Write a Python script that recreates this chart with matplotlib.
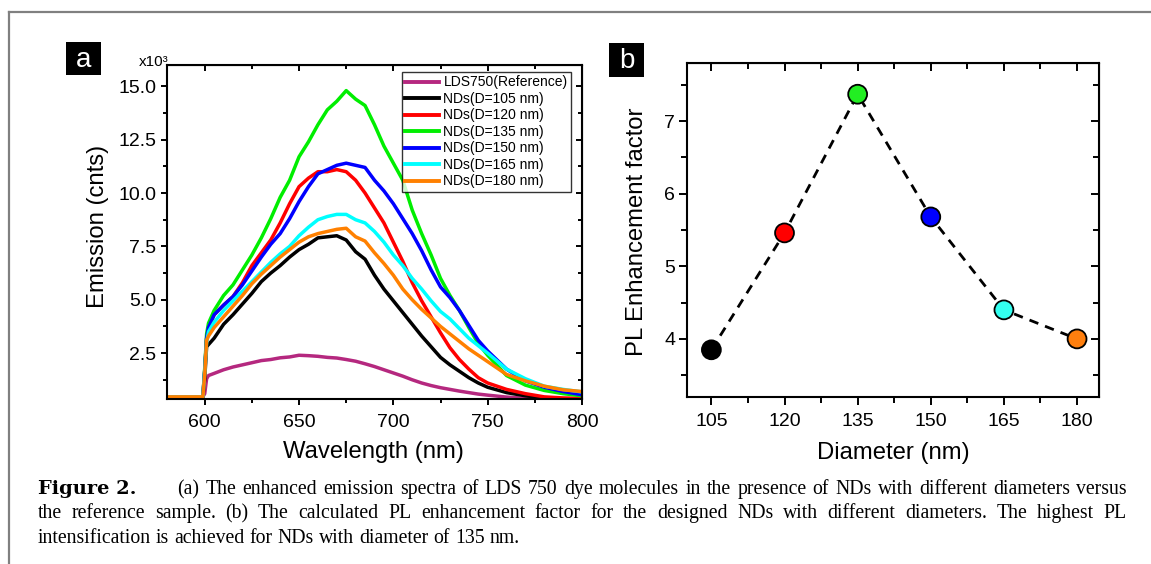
import matplotlib
matplotlib.use("Agg")
import matplotlib.pyplot as plt
from matplotlib.ticker import MultipleLocator, FormatStrFormatter
from matplotlib.patches import Rectangle
from matplotlib.lines import Line2D

plt.rcParams['font.family'] = ['Liberation Sans', 'DejaVu Sans']

# ---------------- data ----------------
wavelength = [580, 599, 600, 601, 602, 605, 610, 615, 620, 625, 630, 635, 640, 645, 650,
              655, 660, 665, 670, 675, 680, 685, 690, 695, 700, 705, 710, 715, 720, 725,
              730, 735, 740, 745, 750, 760, 770, 780, 790, 800]

lds750_ref = [0.45, 0.45, 0.6, 1.3, 1.45, 1.55, 1.72, 1.85, 1.95, 2.05, 2.15, 2.2, 2.28, 2.32, 2.4,
              2.38, 2.35, 2.3, 2.27, 2.2, 2.12, 2.0, 1.87, 1.72, 1.57, 1.42, 1.25, 1.1, 0.98, 0.88,
              0.8, 0.72, 0.65, 0.58, 0.53, 0.44, 0.38, 0.34, 0.32, 0.3]
nd_105 = [0.45, 0.45, 1.3, 2.8, 2.9, 3.2, 3.85, 4.3, 4.8, 5.3, 5.85, 6.25, 6.6, 7.0, 7.35,
          7.6, 7.9, 7.95, 8.0, 7.8, 7.25, 6.9, 6.15, 5.5, 4.95, 4.4, 3.85, 3.3, 2.8, 2.3,
          1.95, 1.65, 1.35, 1.1, 0.9, 0.65, 0.5, 0.4, 0.35, 0.33]
nd_120 = [0.45, 0.45, 1.7, 3.2, 3.7, 4.3, 4.75, 5.15, 5.8, 6.6, 7.2, 7.8, 8.6, 9.5, 10.3,
          10.7, 11.0, 11.0, 11.1, 11.0, 10.6, 10.0, 9.3, 8.6, 7.7, 6.8, 5.8, 4.95, 4.2, 3.45,
          2.75, 2.2, 1.75, 1.35, 1.1, 0.8, 0.6, 0.45, 0.4, 0.38]
nd_135 = [0.45, 0.45, 1.8, 3.4, 3.9, 4.5, 5.2, 5.7, 6.4, 7.1, 7.9, 8.8, 9.8, 10.6, 11.7,
          12.4, 13.2, 13.9, 14.3, 14.8, 14.4, 14.1, 13.2, 12.2, 11.4, 10.6, 9.2, 8.1, 7.1, 6.0,
          5.2, 4.5, 3.7, 2.95, 2.4, 1.45, 1.0, 0.75, 0.6, 0.5]
nd_150 = [0.45, 0.45, 1.7, 3.2, 3.7, 4.3, 4.75, 5.15, 5.7, 6.35, 7.0, 7.6, 8.1, 8.8, 9.6,
          10.3, 10.9, 11.1, 11.3, 11.4, 11.3, 11.2, 10.6, 10.1, 9.5, 8.8, 8.1, 7.3, 6.4, 5.6,
          5.1, 4.5, 3.8, 3.1, 2.6, 1.75, 1.2, 0.9, 0.7, 0.55]
nd_165 = [0.45, 0.45, 1.6, 3.0, 3.5, 3.95, 4.5, 4.95, 5.4, 5.85, 6.3, 6.75, 7.15, 7.5, 8.0,
          8.4, 8.75, 8.9, 9.0, 9.0, 8.75, 8.6, 8.2, 7.7, 7.1, 6.6, 6.0, 5.5, 4.95, 4.45,
          4.1, 3.65, 3.2, 2.85, 2.5, 1.75, 1.3, 0.95, 0.8, 0.68]
nd_180 = [0.45, 0.45, 1.5, 3.1, 3.3, 3.7, 4.2, 4.7, 5.2, 5.75, 6.2, 6.6, 7.0, 7.35, 7.7,
          7.95, 8.1, 8.2, 8.3, 8.35, 7.95, 7.75, 7.2, 6.7, 6.15, 5.5, 5.0, 4.55, 4.15, 3.75,
          3.4, 3.05, 2.7, 2.4, 2.1, 1.5, 1.2, 0.95, 0.78, 0.7]

series_labels = ['LDS750(Reference)', 'NDs(D=105 nm)', 'NDs(D=120 nm)', 'NDs(D=135 nm)',
                 'NDs(D=150 nm)', 'NDs(D=165 nm)', 'NDs(D=180 nm)']
series_colors = ['#B5287F', '#000000', '#FF0000', '#00EE00', '#0000FF', '#00FFFF', '#FF8000']

diameters = [105, 120, 135, 150, 165, 180]
enhancement = [3.85, 5.46, 7.37, 5.68, 4.40, 4.00]
marker_colors = ['#000000', '#FF0000', '#22EE22', '#0000FF', '#33FFF0', '#FF7F0E']

caption_lines = [
    "(a) The enhanced emission spectra of LDS 750 dye molecules in the presence of NDs with different diameters versus",
    "the reference sample. (b) The calculated PL enhancement factor for the designed NDs with different diameters. The highest PL",
    "intensification is achieved for NDs with diameter of 135 nm.",
]

# ---------------- figure ----------------
W, H = 1151, 564
fig = plt.figure(figsize=(W / 100, H / 100), dpi=100)

def fx(px):
    return px / W

def fy(py):
    return 1 - py / H

# frame lines
fig.add_artist(Line2D([fx(9), 1.0], [fy(12), fy(12)], color='#808080', lw=1.6))
fig.add_artist(Line2D([fx(9), fx(9)], [fy(12), 0.0], color='#808080', lw=1.6))

TICK_FS = 14
LABEL_FS = 17.2


def style_axes(ax, major_len, minor_len):
    for sp in ax.spines.values():
        sp.set_linewidth(1.5)
    ax.tick_params(which='both', direction='out', top=False, right=False, width=1.4,
                   labelsize=TICK_FS)
    ax.tick_params(which='major', length=major_len)
    ax.tick_params(which='minor', length=minor_len)
    ax.tick_params(axis='x', which='major', pad=6)
    ax.tick_params(axis='y', which='major', pad=3)


def mirror_ticks(ax, xmaj, xmin, ymaj, ymin, major_len, minor_len):
    sx = ax.secondary_xaxis('top')
    sx.xaxis.set_major_locator(MultipleLocator(xmaj))
    sx.xaxis.set_minor_locator(MultipleLocator(xmin))
    sx.tick_params(which='both', direction='in', labeltop=False, width=1.4)
    sx.tick_params(which='major', length=major_len)
    sx.tick_params(which='minor', length=minor_len)
    sy = ax.secondary_yaxis('right')
    sy.yaxis.set_major_locator(MultipleLocator(ymaj))
    sy.yaxis.set_minor_locator(MultipleLocator(ymin))
    sy.tick_params(which='both', direction='in', labelright=False, width=1.4)
    sy.tick_params(which='major', length=major_len)
    sy.tick_params(which='minor', length=minor_len)


# ---- panel a ----
ax1 = fig.add_axes([fx(167), fy(399), fx(582) - fx(167), fy(65) - fy(399)])
all_series = [lds750_ref, nd_105, nd_120, nd_135, nd_150, nd_165, nd_180]
for vals, lab, col in zip(all_series, series_labels, series_colors):
    ax1.plot(wavelength, vals, color=col, lw=2.5, label=lab, solid_joinstyle='round')
ax1.xaxis.set_major_locator(MultipleLocator(50))
ax1.xaxis.set_minor_locator(MultipleLocator(25))
ax1.yaxis.set_major_locator(MultipleLocator(2.5))
ax1.yaxis.set_minor_locator(MultipleLocator(1.25))
ax1.yaxis.set_major_formatter(FormatStrFormatter('%.1f'))
style_axes(ax1, 4.5, 2.6)
ax1.set_xlim(580, 800)
ax1.set_ylim(0.35, 16.0)
mirror_ticks(ax1, 50, 25, 2.5, 1.25, 4.5, 2.6)

leg = ax1.legend(loc='upper right', bbox_to_anchor=((571 - 167) / 415, 1 - 7 / 334),
                 borderaxespad=0, fontsize=10, frameon=True, fancybox=False,
                 edgecolor='black', handlelength=2.45, handletextpad=0.3,
                 labelspacing=0.18, borderpad=0.25)
leg.get_frame().set_linewidth(1.0)
for lh in leg.get_lines():
    lh.set_linewidth(2.8)

fig.text(fx(373), fy(452), 'Wavelength (nm)', fontsize=LABEL_FS, ha='center', va='center')
fig.text(fx(98), fy(226), 'Emission (cnts)', fontsize=LABEL_FS, ha='center', va='center',
         rotation=90)
fig.text(fx(139), fy(66), 'x10\u00b3', fontsize=11, ha='left', va='baseline')

# ---- panel b ----
ax2 = fig.add_axes([fx(687), fy(397), fx(1099) - fx(687), fy(63) - fy(397)])
ax2.plot(diameters, enhancement, color='black', lw=2.0, ls=(0, (3.4, 2.6)), zorder=2)
ax2.scatter(diameters, enhancement, s=185, c=marker_colors, edgecolors='black',
            linewidths=1.3, zorder=3)
ax2.xaxis.set_minor_locator(MultipleLocator(7.5))
ax2.yaxis.set_major_locator(MultipleLocator(1))
ax2.yaxis.set_minor_locator(MultipleLocator(0.5))
style_axes(ax2, 5.5, 4.5)
ax2.set_xticks(diameters)
ax2.set_xlim(100, 184.5)
ax2.set_ylim(3.2, 7.8)
mirror_ticks(ax2, 15, 7.5, 1, 0.5, 5.5, 4.5)

fig.text(fx(893), fy(453), 'Diameter (nm)', fontsize=LABEL_FS, ha='center', va='center')
fig.text(fx(637), fy(232), 'PL Enhancement factor', fontsize=LABEL_FS, ha='center',
         va='center', rotation=90)

# ---- panel letters ----
for (x0, y0, x1, y1), letter in [((66, 42, 101, 75), 'a'), ((609, 43, 644, 77), 'b')]:
    fig.add_artist(Rectangle((fx(x0), fy(y1)), fx(x1) - fx(x0), fy(y0) - fy(y1),
                             transform=fig.transFigure, facecolor='black', edgecolor='none'))
    fig.text(fx((x0 + x1) / 2), fy((y0 + y1) / 2 + 1), letter, color='white', fontsize=20,
             ha='center', va='center')

# ---- caption (justified lines) ----
CAP_FS = 14.2
serif = ['Liberation Serif', 'DejaVu Serif']
renderer = fig.canvas.get_renderer()


def justified(line, x_left, x_right, y_base, justify=True):
    words = line.split(' ')
    arts = [fig.text(0, fy(y_base), w, fontsize=CAP_FS, family=serif, ha='left',
                     va='baseline') for w in words]
    widths = [a.get_window_extent(renderer).width for a in arts]
    if justify and len(words) > 1:
        gap = (x_right - x_left - sum(widths)) / (len(words) - 1)
    else:
        sp = fig.text(0, 0, 'a a', fontsize=CAP_FS, family=serif)
        sp2 = fig.text(0, 0, 'aa', fontsize=CAP_FS, family=serif)
        gap = sp.get_window_extent(renderer).width - sp2.get_window_extent(renderer).width
        sp.remove()
        sp2.remove()
    x = x_left
    for a, w in zip(arts, widths):
        a.set_x(fx(x))
        x += w + gap


fig.text(fx(38), fy(494), 'Figure 2.', fontsize=14, family=['DejaVu Serif'], weight='bold',
         ha='left', va='baseline')
justified(caption_lines[0], 177, 1127, 494)
justified(caption_lines[1], 38, 1127, 518)
justified(caption_lines[2], 38, 1127, 543, justify=False)

fig.savefig('out.png', dpi=100)
